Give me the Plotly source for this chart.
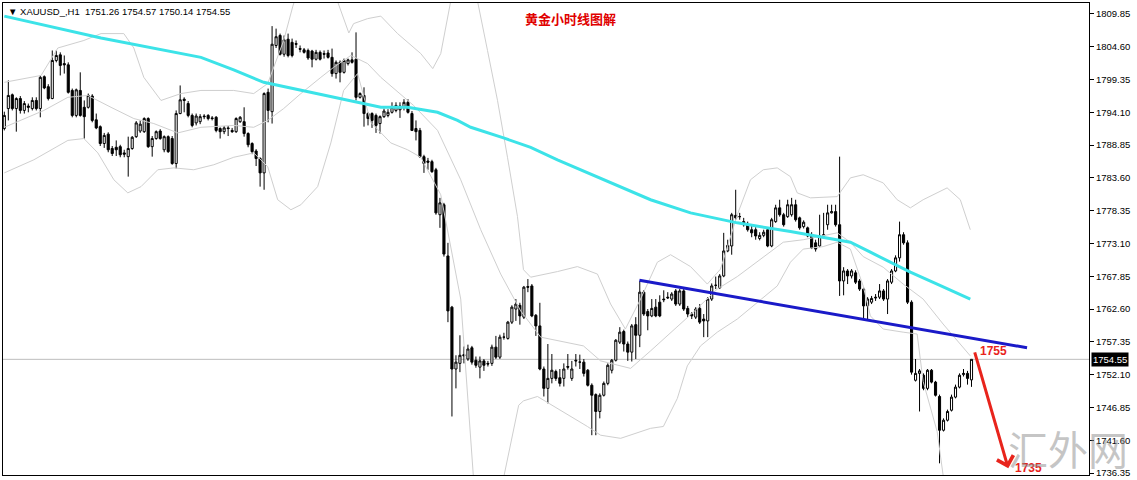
import plotly.graph_objects as go

COLORS = {
    "candle": "#000000",
    "ma": "#3CE3E8",
    "bands": "#CFCFCF",
    "trend": "#1A1AC8",
    "arrow": "#E8241C",
    "title": "#E00000",
    "price_line": "#BDBDBD",
}
FONT = "Liberation Sans, Arial, sans-serif"
CJK = "Noto Sans CJK SC, sans-serif"

SYMBOL = "XAUUSD_,H1"
TITLE = "黄金小时线图解"
WATERMARK = "汇外网"

# hourly bars, oldest first
OPEN = [
    1791.5, 1794.7, 1796.9, 1794.7, 1796.3, 1794.4, 1795.1, 1794.7, 1796.0, 1794.7,
    1799.8, 1798.2, 1796.3, 1802.4, 1803.3, 1801.9, 1801.7, 1797.6, 1793.6, 1797.6,
    1794.9, 1794.9, 1796.7, 1792.9, 1791.8, 1789.1, 1790.6, 1788.3, 1788.5, 1788.6,
    1787.6, 1787.0, 1788.3, 1790.2, 1791.1, 1791.0, 1793.1, 1788.6, 1789.9, 1791.1,
    1788.1, 1790.2, 1789.9, 1785.9, 1793.9, 1796.2, 1795.5, 1793.6, 1792.4, 1792.6,
    1793.5, 1793.6, 1793.2, 1793.3, 1791.5, 1791.0, 1791.6, 1791.2, 1791.0, 1792.6,
    1792.6, 1790.7, 1789.1, 1787.9, 1786.7, 1784.4, 1797.3, 1794.2, 1804.8, 1806.4,
    1803.4, 1805.8, 1805.3, 1805.1, 1804.3, 1804.1, 1804.0, 1803.9, 1802.6, 1803.7,
    1803.5, 1803.6, 1802.9, 1800.3, 1802.1, 1800.5, 1801.9, 1802.5, 1802.6, 1796.5,
    1796.8, 1793.9, 1793.9, 1793.6, 1792.3, 1793.4, 1793.6, 1794.1, 1794.4, 1794.5,
    1794.9, 1795.7, 1793.9, 1791.5, 1791.2, 1787.0, 1786.3, 1786.2, 1784.9, 1777.7,
    1779.3, 1771.1, 1762.9, 1753.0, 1753.9, 1755.3, 1754.6, 1756.4, 1754.4, 1753.3,
    1754.3, 1753.9, 1753.9, 1756.5, 1754.9, 1758.1, 1757.9, 1760.5, 1762.6, 1763.2,
    1761.3, 1766.2, 1766.3, 1761.6, 1759.9, 1753.0, 1749.9, 1751.5, 1752.6, 1751.6,
    1751.5, 1753.4, 1751.5, 1754.4, 1754.1, 1754.1, 1752.8, 1750.4, 1748.9, 1746.2,
    1748.8, 1750.7, 1752.8, 1754.4, 1757.3, 1759.0, 1757.0, 1755.7, 1760.1, 1758.4,
    1765.3, 1762.2, 1761.5, 1762.9, 1763.7, 1764.2, 1764.5, 1764.2, 1765.5, 1763.4,
    1765.5, 1762.7, 1761.8, 1761.3, 1762.7, 1761.0, 1760.7, 1764.2, 1766.4, 1766.0,
    1767.9, 1771.9, 1772.7, 1777.6, 1777.4, 1776.6, 1776.1, 1775.3, 1775.3, 1773.9,
    1774.4, 1775.3, 1772.7, 1776.6, 1778.8, 1777.7, 1777.4, 1777.7, 1779.3, 1777.2,
    1775.8, 1775.6, 1774.5, 1773.2, 1772.7, 1774.3, 1776.1, 1778.0, 1778.2, 1776.1,
    1767.1, 1768.7, 1767.9, 1768.4, 1767.1, 1765.8, 1763.1, 1763.7, 1764.5, 1764.5,
    1765.5, 1764.2, 1766.9, 1768.7, 1770.8, 1774.5, 1773.2, 1763.7, 1751.2, 1752.3,
    1752.0, 1749.9, 1752.8, 1750.9, 1748.6, 1743.2, 1744.8, 1746.4, 1748.5, 1750.1,
    1752.1, 1752.3, 1751.26,
]
HIGH = [
    1794.2, 1799.2, 1797.1, 1796.5, 1796.7, 1795.9, 1795.5, 1796.5, 1796.5, 1800.0,
    1800.0, 1798.6, 1804.0, 1804.0, 1803.7, 1803.2, 1802.1, 1797.9, 1797.9, 1800.5,
    1796.0, 1797.1, 1797.0, 1793.9, 1792.0, 1790.8, 1790.9, 1788.7, 1789.6, 1788.9,
    1788.1, 1790.2, 1790.3, 1792.7, 1792.8, 1793.3, 1793.3, 1790.3, 1791.2, 1791.4,
    1790.4, 1790.4, 1790.3, 1794.4, 1798.4, 1796.5, 1795.9, 1793.9, 1793.9, 1793.8,
    1793.8, 1793.8, 1793.5, 1793.5, 1791.7, 1791.9, 1791.9, 1791.6, 1793.3, 1793.5,
    1794.9, 1790.9, 1789.3, 1788.2, 1786.9, 1797.3, 1797.9, 1807.9, 1807.5, 1806.7,
    1806.4, 1806.7, 1805.9, 1805.6, 1804.8, 1804.4, 1804.3, 1804.1, 1804.1, 1804.0,
    1804.0, 1804.1, 1804.3, 1802.4, 1802.4, 1802.7, 1802.7, 1803.7, 1806.9, 1797.3,
    1798.1, 1794.1, 1794.1, 1793.9, 1793.6, 1794.7, 1794.6, 1795.7, 1795.7, 1795.7,
    1796.2, 1796.2, 1794.3, 1792.8, 1791.6, 1787.3, 1786.8, 1786.5, 1785.2, 1780.4,
    1779.6, 1773.2, 1763.1, 1755.2, 1758.4, 1756.6, 1756.9, 1756.7, 1755.0, 1755.0,
    1754.6, 1754.3, 1756.9, 1758.3, 1758.5, 1758.8, 1760.7, 1763.2, 1764.2, 1763.6,
    1766.3, 1767.4, 1766.6, 1761.8, 1763.6, 1753.4, 1757.0, 1755.4, 1752.9, 1753.0,
    1753.9, 1755.4, 1754.3, 1755.4, 1755.3, 1754.6, 1753.0, 1750.7, 1749.1, 1749.1,
    1751.0, 1753.9, 1754.6, 1757.8, 1759.7, 1759.3, 1757.4, 1760.2, 1761.3, 1767.1,
    1765.6, 1762.6, 1764.2, 1764.2, 1764.8, 1765.6, 1765.3, 1765.3, 1765.8, 1765.8,
    1765.8, 1763.1, 1762.1, 1762.9, 1763.4, 1761.8, 1764.5, 1766.7, 1767.8, 1768.2,
    1774.8, 1773.7, 1778.0, 1781.7, 1778.0, 1777.2, 1776.6, 1776.0, 1775.7, 1774.9,
    1775.3, 1775.7, 1777.2, 1779.3, 1780.1, 1778.0, 1780.1, 1780.4, 1780.1, 1777.4,
    1776.8, 1775.8, 1774.9, 1773.7, 1777.7, 1778.0, 1779.3, 1779.3, 1779.3, 1787.0,
    1769.3, 1769.0, 1769.0, 1768.8, 1767.4, 1766.1, 1764.5, 1764.7, 1765.0, 1766.6,
    1765.8, 1767.4, 1769.0, 1771.2, 1776.6, 1774.9, 1773.6, 1764.0, 1754.6, 1753.0,
    1752.3, 1753.0, 1753.0, 1751.1, 1748.9, 1745.1, 1746.5, 1748.9, 1750.5, 1752.3,
    1753.0, 1752.7, 1754.57,
]
LOW = [
    1791.2, 1792.8, 1794.4, 1791.0, 1793.9, 1793.9, 1794.1, 1794.4, 1794.4, 1793.3,
    1797.8, 1796.0, 1796.2, 1802.1, 1800.0, 1800.3, 1797.1, 1793.3, 1793.3, 1793.4,
    1789.9, 1794.7, 1792.5, 1791.4, 1788.7, 1788.4, 1787.7, 1787.1, 1787.1, 1786.9,
    1786.9, 1783.8, 1788.1, 1790.0, 1790.8, 1790.8, 1788.4, 1787.0, 1789.7, 1789.7,
    1787.7, 1787.6, 1785.7, 1785.1, 1793.8, 1794.1, 1793.3, 1791.7, 1792.0, 1792.2,
    1793.0, 1792.8, 1792.8, 1790.9, 1789.9, 1790.6, 1790.3, 1790.8, 1790.8, 1792.4,
    1790.2, 1788.5, 1787.4, 1785.5, 1782.2, 1781.7, 1792.5, 1792.3, 1804.4, 1803.2,
    1803.0, 1802.9, 1802.9, 1804.4, 1803.7, 1803.5, 1802.5, 1801.3, 1802.4, 1802.4,
    1802.7, 1802.7, 1799.8, 1799.5, 1798.9, 1800.3, 1801.6, 1801.9, 1796.0, 1796.3,
    1791.8, 1792.0, 1791.6, 1790.8, 1790.7, 1793.2, 1793.3, 1793.9, 1794.1, 1793.2,
    1794.4, 1793.9, 1791.1, 1789.6, 1786.8, 1784.4, 1784.9, 1784.4, 1777.7, 1775.6,
    1771.0, 1760.5, 1745.4, 1749.9, 1752.5, 1753.9, 1754.3, 1753.7, 1753.2, 1751.5,
    1752.7, 1753.4, 1753.5, 1754.6, 1754.6, 1757.7, 1757.7, 1760.2, 1760.7, 1760.1,
    1761.0, 1765.3, 1761.3, 1758.3, 1752.8, 1748.6, 1747.5, 1750.7, 1751.1, 1750.2,
    1750.2, 1752.9, 1751.1, 1753.4, 1753.0, 1751.8, 1750.2, 1742.4, 1742.4, 1745.1,
    1748.6, 1750.4, 1752.3, 1754.2, 1757.0, 1755.8, 1754.3, 1754.2, 1754.6, 1756.5,
    1761.5, 1759.2, 1761.3, 1761.3, 1761.3, 1763.7, 1764.2, 1763.9, 1763.1, 1763.1,
    1762.3, 1761.3, 1761.0, 1761.0, 1760.2, 1758.1, 1758.1, 1763.9, 1765.8, 1765.8,
    1767.7, 1771.7, 1771.3, 1776.9, 1776.9, 1775.8, 1775.0, 1774.1, 1773.7, 1773.6,
    1774.1, 1772.5, 1772.5, 1776.4, 1777.4, 1775.8, 1777.2, 1777.4, 1776.6, 1775.3,
    1775.5, 1774.1, 1772.2, 1771.8, 1772.5, 1774.1, 1775.3, 1777.9, 1775.8, 1764.7,
    1764.8, 1766.6, 1767.5, 1766.6, 1765.5, 1761.0, 1761.0, 1763.4, 1763.9, 1764.2,
    1763.9, 1761.8, 1766.6, 1768.5, 1770.2, 1772.9, 1763.4, 1752.1, 1751.0, 1746.2,
    1749.6, 1749.6, 1750.7, 1748.6, 1737.9, 1743.0, 1744.6, 1746.2, 1748.3, 1749.9,
    1751.8, 1750.5, 1750.14,
]
CLOSE = [
    1793.6, 1796.8, 1794.7, 1796.3, 1794.4, 1795.5, 1794.9, 1796.0, 1794.7, 1799.7,
    1798.0, 1796.3, 1802.4, 1803.2, 1801.6, 1801.7, 1797.3, 1793.6, 1797.7, 1793.6,
    1793.4, 1796.8, 1792.8, 1791.6, 1789.1, 1790.4, 1788.1, 1787.5, 1788.1, 1787.3,
    1787.4, 1788.3, 1790.1, 1792.4, 1792.2, 1793.1, 1788.6, 1789.9, 1791.0, 1789.9,
    1790.2, 1787.8, 1785.9, 1793.9, 1796.1, 1796.0, 1793.6, 1792.0, 1793.5, 1793.4,
    1793.4, 1793.1, 1793.1, 1791.2, 1791.0, 1791.6, 1791.5, 1791.0, 1793.1, 1793.3,
    1790.7, 1788.9, 1787.8, 1786.7, 1784.4, 1797.1, 1794.4, 1805.0, 1806.2, 1803.4,
    1805.7, 1803.2, 1803.2, 1805.0, 1804.2, 1803.7, 1802.8, 1802.6, 1803.7, 1802.6,
    1803.4, 1802.9, 1800.3, 1802.1, 1800.5, 1802.4, 1802.5, 1802.1, 1796.5, 1797.1,
    1793.9, 1793.1, 1792.8, 1792.0, 1793.4, 1794.3, 1794.1, 1794.9, 1795.2, 1795.1,
    1795.7, 1794.1, 1791.2, 1791.0, 1787.0, 1785.9, 1786.1, 1784.6, 1778.0, 1779.6,
    1771.4, 1762.3, 1753.0, 1754.1, 1755.2, 1755.1, 1756.2, 1754.1, 1753.6, 1754.3,
    1753.6, 1753.8, 1756.5, 1754.9, 1758.1, 1758.1, 1760.5, 1762.9, 1763.4, 1761.5,
    1766.1, 1766.1, 1761.5, 1759.9, 1753.0, 1749.9, 1751.5, 1752.8, 1751.5, 1750.7,
    1753.0, 1753.3, 1753.0, 1754.3, 1754.1, 1752.3, 1750.4, 1748.8, 1746.2, 1748.8,
    1750.7, 1753.6, 1754.4, 1757.6, 1758.9, 1757.0, 1755.7, 1759.9, 1758.4, 1765.3,
    1761.8, 1761.5, 1762.7, 1761.5, 1761.5, 1764.1, 1764.4, 1765.0, 1763.4, 1765.5,
    1762.6, 1761.8, 1761.5, 1762.6, 1760.5, 1760.7, 1764.2, 1766.3, 1766.4, 1767.9,
    1771.9, 1772.8, 1777.7, 1777.2, 1777.4, 1776.1, 1775.3, 1774.8, 1774.3, 1774.4,
    1774.9, 1772.7, 1776.9, 1778.8, 1777.7, 1776.1, 1779.3, 1779.3, 1776.9, 1775.6,
    1776.5, 1774.3, 1772.4, 1772.2, 1774.3, 1774.5, 1778.0, 1778.2, 1776.1, 1767.1,
    1768.7, 1767.9, 1768.7, 1766.9, 1765.8, 1763.1, 1764.2, 1764.3, 1764.4, 1765.5,
    1764.2, 1767.1, 1768.7, 1770.8, 1774.5, 1773.2, 1763.7, 1752.5, 1752.3, 1752.7,
    1749.9, 1752.8, 1750.9, 1748.8, 1743.2, 1744.8, 1746.2, 1748.5, 1750.1, 1752.0,
    1752.3, 1751.5, 1754.55,
]
BARS = list(range(len(CLOSE)))

# moving average (cyan), read as knots: bar index -> price
MA_BAR = [0, 24.2, 49.2, 57.4, 64.9, 74.2, 82.4, 94.2, 100.9, 108.4, 113.4, 116.7,
          124.9, 131.7, 138.4, 145.9, 151.7, 161.7, 171.7, 183.4, 196.7, 208.4,
          211.7, 216.7, 221.7, 226.7, 233.4, 241.7]
MA_VAL = [1809.5, 1806.0, 1802.9, 1800.9, 1798.9, 1797.6, 1796.5, 1794.9, 1794.9,
          1794.1, 1792.8, 1791.7, 1790.0, 1788.5, 1786.5, 1784.4, 1782.8, 1780.1,
          1778.0, 1776.4, 1775.0, 1773.7, 1773.3, 1771.7, 1770.1, 1768.5, 1766.6,
          1764.2]

# bollinger bands (grey)
UPPER_BAR = [0, 9.2, 13.4, 19.9, 24.2, 29.9, 32.4, 34.9, 39.2, 44.2, 49.2, 57.4,
             62.4, 65.9, 69.9, 72.2, 74.2, 79.2, 82.9, 86.2, 87.4, 90.9, 94.2, 98.4,
             104.2, 107.2, 109.2, 111.7, 114.7, 118.4, 120.9, 123.4, 125.9, 128.4,
             129.9, 131.7, 138.4, 143.4, 148.4, 151.7, 155.4, 159.2, 163.4, 166.7,
             171.7, 175.9, 179.2, 183.4, 186.7, 189.9, 193.4, 196.7, 198.4, 201.7,
             208.4, 211.7, 214.9, 219.9, 223.4, 226.7, 229.9, 235.9, 239.2, 241.7]
UPPER_VAL = [1798.9, 1800.0, 1804.4, 1805.6, 1806.7, 1806.7, 1804.4, 1799.7, 1796.0,
             1797.1, 1797.6, 1797.6, 1797.1, 1798.7, 1805.6, 1811.1, 1815.1, 1817.5,
             1812.7, 1806.8, 1808.3, 1809.1, 1809.5, 1806.7, 1803.5, 1801.1, 1803.5,
             1811.9, 1818.3, 1811.9, 1804.0, 1796.0, 1786.9, 1777.4, 1768.9, 1767.7,
             1768.6, 1769.4, 1768.2, 1763.4, 1759.4, 1764.2, 1770.1, 1771.3, 1769.4,
             1766.6, 1769.0, 1777.7, 1783.3, 1784.9, 1785.2, 1783.8, 1781.2, 1780.4,
             1780.6, 1783.6, 1784.1, 1782.8, 1780.1, 1778.8, 1780.1, 1782.0, 1780.1,
             1775.3]
MID_BAR = [0, 9.9, 15.9, 20.9, 26.7, 32.4, 37.4, 43.4, 49.2, 57.4, 62.4, 65.9, 69.9,
           74.2, 79.2, 82.4, 86.7, 90.9, 94.2, 102.4, 108.4, 114.2, 119.2, 124.2,
           129.2, 134.2, 144.9, 149.2, 156.7, 161.7, 172.4, 178.4, 183.4, 189.2,
           194.9, 199.9, 208.4, 211.7, 214.9, 219.9, 224.9, 229.9, 234.9, 241.7]
MID_VAL = [1791.7, 1794.4, 1796.5, 1796.8, 1794.9, 1793.1, 1792.3, 1790.8, 1791.7,
           1792.0, 1791.7, 1792.8, 1794.7, 1797.1, 1799.7, 1801.3, 1803.2, 1801.9,
           1799.7, 1795.2, 1791.2, 1783.3, 1775.3, 1768.2, 1762.3, 1758.1, 1756.7,
           1754.3, 1753.1, 1755.9, 1762.1, 1765.8, 1767.8, 1770.6, 1773.3, 1773.7,
           1774.8, 1773.3, 1771.0, 1769.3, 1766.6, 1764.2, 1760.2, 1755.1]
LOWER_BAR = [0, 7.4, 15.9, 19.9, 23.4, 27.4, 30.9, 34.2, 38.4, 42.4, 47.4, 52.4,
             57.4, 62.4, 65.9, 68.4, 71.7, 74.2, 78.4, 81.7, 84.9, 88.4, 91.7, 96.7,
             100.9, 104.2, 109.2, 114.2, 117.4, 120.4, 123.4, 124.9, 128.7, 129.9,
             133.4, 138.4, 145.9, 149.2, 154.2, 161.7, 164.9, 168.4, 170.9, 174.2,
             178.4, 183.4, 188.4, 193.4, 196.7, 199.9, 204.9, 208.4, 211.7, 214.9,
             216.7, 219.9, 224.9, 228.4, 229.9, 233.4, 234.9, 237.9, 241.7]
LOWER_VAL = [1784.4, 1786.5, 1789.6, 1789.9, 1787.6, 1783.3, 1781.2, 1782.2, 1784.9,
             1785.2, 1784.9, 1785.7, 1786.9, 1787.6, 1785.4, 1780.1, 1778.5, 1779.3,
             1782.2, 1789.2, 1797.6, 1800.3, 1792.5, 1789.2, 1788.1, 1786.9, 1780.9,
             1764.2, 1735.5, 1727.6, 1729.2, 1735.5, 1747.2, 1747.9, 1748.6, 1746.7,
             1743.8, 1742.4, 1741.9, 1743.5, 1743.8, 1748.3, 1753.5, 1756.7, 1758.9,
             1761.0, 1763.7, 1766.3, 1770.1, 1772.2, 1772.6, 1773.3, 1772.2, 1766.3,
             1761.5, 1759.4, 1758.9, 1758.6, 1751.0, 1743.0, 1736.0, 1732.0, 1734.0]

# hand-drawn objects
TREND_BAR = [158.9, 255.9]
TREND_VAL = [1767.2, 1756.4]
ARROW_BAR = [242.7, 251.2]
ARROW_VAL = [1755.9, 1737.1]
TARGET_LABELS = ["1755", "1735"]

PRICE_TICKS = [1809.85, 1804.60, 1799.35, 1794.10, 1788.85, 1783.60, 1778.35,
               1773.10, 1767.85, 1762.60, 1757.35, 1752.10, 1746.85, 1741.60, 1736.35]

fig = go.Figure()

for bx, by in [(UPPER_BAR, UPPER_VAL), (MID_BAR, MID_VAL), (LOWER_BAR, LOWER_VAL)]:
    fig.add_trace(go.Scatter(x=bx, y=by, mode="lines",
                             line=dict(color=COLORS["bands"], width=1)))

fig.add_trace(go.Scatter(x=MA_BAR, y=MA_VAL, mode="lines",
                         line=dict(color=COLORS["ma"], width=3)))

fig.add_trace(go.Candlestick(
    x=BARS, open=OPEN, high=HIGH, low=LOW, close=CLOSE,
    increasing=dict(line=dict(color=COLORS["candle"], width=1), fillcolor="#FFFFFF"),
    decreasing=dict(line=dict(color=COLORS["candle"], width=1), fillcolor="#000000"),
    whiskerwidth=0,
))

fig.add_trace(go.Scatter(x=TREND_BAR, y=TREND_VAL, mode="lines",
                         line=dict(color=COLORS["trend"], width=3)))

last_close = CLOSE[-1]
fig.add_hline(y=last_close, line=dict(color=COLORS["price_line"], width=1), layer="below")

# forecast arrow 1755 -> 1735
fig.add_annotation(x=ARROW_BAR[1], y=ARROW_VAL[1], ax=ARROW_BAR[0], ay=ARROW_VAL[0],
                   xref="x", yref="y", axref="x", ayref="y", text="",
                   showarrow=True, arrowhead=4, arrowsize=1.1, arrowwidth=3,
                   arrowcolor=COLORS["arrow"], standoff=0)
fig.add_annotation(x=ARROW_BAR[0] + 1, y=ARROW_VAL[0], text=f"<b>{TARGET_LABELS[0]}</b>",
                   showarrow=False, xanchor="left", yanchor="middle",
                   font=dict(family=FONT, size=12, color=COLORS["arrow"]))
fig.add_annotation(x=ARROW_BAR[1] + 1.2, y=ARROW_VAL[1], text=f"<b>{TARGET_LABELS[1]}</b>",
                   showarrow=False, xanchor="left", yanchor="middle",
                   font=dict(family=FONT, size=12, color=COLORS["arrow"]))

# header
header = f"▼ {SYMBOL}\u00a0\u00a0{OPEN[-1]:.2f} {HIGH[-1]:.2f} {LOW[-1]:.2f} {CLOSE[-1]:.2f}"
fig.add_annotation(x=0, y=1, xref="paper", yref="paper", text=header, showarrow=False,
                   xanchor="left", yanchor="top", xshift=3, yshift=-1,
                   font=dict(family=FONT, size=9.5, color="#000000"))
fig.add_annotation(x=0.5225, y=0.968, xref="paper", yref="paper", text=f"<b>{TITLE}</b>",
                   showarrow=False, xanchor="center", yanchor="middle",
                   font=dict(family=CJK, size=13, color=COLORS["title"]))

# last price tag on the axis
fig.add_annotation(x=1, y=last_close, xref="paper", yref="y", text=f"{last_close:.2f}",
                   showarrow=False, xanchor="left", xshift=2, bgcolor="#000000",
                   borderpad=1, font=dict(family=FONT, size=9.5, color="#FFFFFF"))

fig.add_annotation(x=0.981, y=0.057, xref="paper", yref="paper", text=WATERMARK,
                   showarrow=False, xanchor="center", yanchor="middle",
                   font=dict(family=CJK, size=40, color="rgba(140,140,140,0.5)"))

fig.update_layout(
    width=1137, height=480,
    margin=dict(l=2, r=48, t=2, b=3),
    paper_bgcolor="#FFFFFF", plot_bgcolor="#FFFFFF",
    showlegend=False, hovermode=False, boxgap=0.25,
    xaxis=dict(range=[-0.33, 271.4], showgrid=False, zeroline=False,
               showticklabels=False, ticks="", showline=True, mirror=True,
               linecolor="#000000", linewidth=1, rangeslider=dict(visible=False)),
    yaxis=dict(side="right", range=[1736.03, 1811.6], tickvals=PRICE_TICKS,
               ticktext=[f"{t:.2f}" for t in PRICE_TICKS], ticks="outside", ticklen=4,
               tickcolor="#000000", showgrid=False, zeroline=False, showline=True,
               mirror=True, linecolor="#000000", linewidth=1, ticklabeloverflow="allow",
               tickfont=dict(family=FONT, size=9.5, color="#000000")),
)

fig.write_html("out.html", config={"displayModeBar": False},
               post_script="document.body.style.margin='0';")
